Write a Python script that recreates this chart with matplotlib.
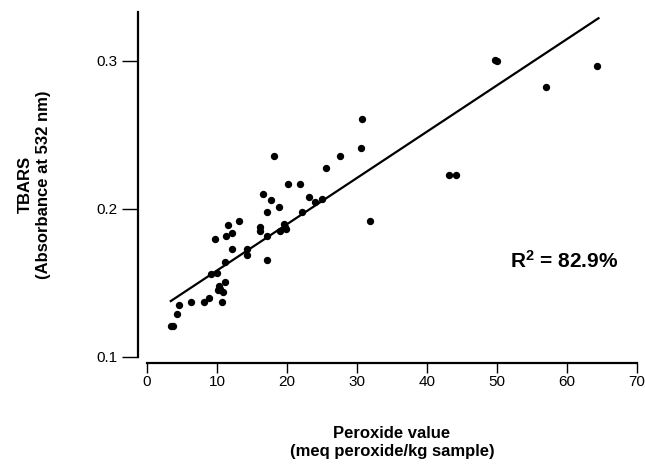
import matplotlib
matplotlib.use("Agg")
import matplotlib.pyplot as plt

# ── Data ──────────────────────────────────────────────────────────────────────

peroxide = [3.4, 3.7, 4.3, 4.5, 6.3, 8.2, 8.8, 9.2, 10.0, 9.7,
            10.1, 10.4, 10.3, 10.8, 10.7, 11.1, 11.1, 11.5, 11.3, 12.1,
            12.1, 13.2, 14.3, 14.3, 16.1, 16.1, 16.6, 17.1, 17.1, 17.1,
            17.7, 18.2, 18.8, 19.0, 19.5, 19.7, 19.9, 20.1, 21.8, 22.1,
            23.1, 24.0, 25.0, 25.5, 27.6, 30.5, 30.7, 31.9, 43.1, 44.1,
            49.7, 50.0, 57.0, 64.3]
tbars = [0.121, 0.121, 0.129, 0.135, 0.137, 0.137, 0.140, 0.156, 0.157, 0.180,
         0.145, 0.146, 0.148, 0.144, 0.137, 0.151, 0.164, 0.189, 0.182, 0.184,
         0.173, 0.192, 0.173, 0.169, 0.1876, 0.1853, 0.210, 0.198, 0.182, 0.1655,
         0.206, 0.236, 0.2015, 0.1853, 0.190, 0.188, 0.1865, 0.2167, 0.2167, 0.198,
         0.208, 0.205, 0.207, 0.228, 0.236, 0.241, 0.261, 0.192, 0.223, 0.223,
         0.3007, 0.2998, 0.2824, 0.2966]

fit_x = [3.4, 64.5]
fit_y = [0.1378, 0.3289]

x_ticks = [0, 10, 20, 30, 40, 50, 60, 70]
y_ticks = [0.1, 0.2, 0.3]
r2_label = "R$^2$ = 82.9%"

# ── Plot ──────────────────────────────────────────────────────────────────────

plt.rcParams["font.family"] = ["Liberation Sans", "DejaVu Sans"]
plt.rcParams["mathtext.fontset"] = "custom"
plt.rcParams["mathtext.rm"] = "Liberation Sans:bold"
plt.rcParams["mathtext.bf"] = "Liberation Sans:bold"
plt.rcParams["mathtext.default"] = "bf"

fig = plt.figure(figsize=(6.45, 4.68), dpi=100)
ax = fig.add_axes([147 / 645, 111 / 468, 490 / 645, 345 / 468])

ax.scatter(peroxide, tbars, s=28, color="black", linewidths=0, zorder=3)
ax.plot(fit_x, fit_y, color="black", linewidth=1.6, zorder=2)

ax.set_xlim(0, 70)
ax.set_ylim(0.1, 0.3331)

for side in ("top", "right"):
    ax.spines[side].set_visible(False)
ax.spines["left"].set_position(("outward", 6.5))
ax.spines["bottom"].set_position(("outward", 4.3))
ax.spines["left"].set_bounds(0.1, 0.3331)
ax.spines["bottom"].set_bounds(0, 70)
ax.spines["left"].set_linewidth(1.6)
ax.spines["bottom"].set_linewidth(1.6)

ax.set_xticks(x_ticks)
ax.set_xticklabels([str(t) for t in x_ticks])
ax.set_yticks(y_ticks)
ax.set_yticklabels([f"{t:.1f}" for t in y_ticks])
ax.tick_params(axis="y", length=11.5, width=1.0, labelsize=11, pad=3)
ax.tick_params(axis="x", length=7, width=1.0, labelsize=11, pad=2)

ax.set_xlabel("Peroxide value\n(meq peroxide/kg sample)",
              fontsize=12, fontweight="bold", labelpad=26, linespacing=1.25)
ax.set_ylabel("TBARS\n(Absorbance at 532 nm)",
              fontsize=12, fontweight="bold", labelpad=33, linespacing=1.25)

ax.text(51.9, 0.160, r2_label, fontsize=15, fontweight="bold",
        ha="left", va="baseline")

fig.savefig("out.png", dpi=100)
plt.close(fig)
